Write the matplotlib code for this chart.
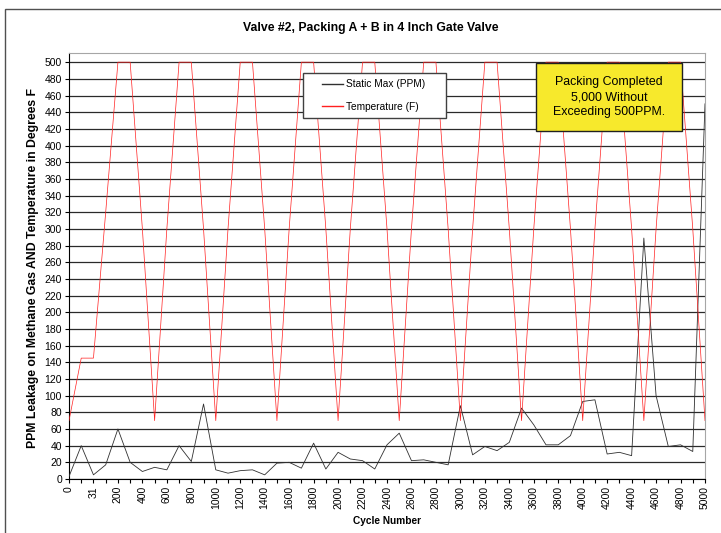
import matplotlib
matplotlib.use("Agg")
import matplotlib.pyplot as plt
from matplotlib.patches import Rectangle

plt.rcParams['font.family'] = ['Liberation Sans', 'DejaVu Sans']

# cycle number categories (Excel category axis, labels on every other one)
cycles = ['0', '10', '31', '100', '200', '300', '400', '500', '600', '700',
          '800', '900', '1000', '1100', '1200', '1300', '1400', '1500', '1600', '1700',
          '1800', '1900', '2000', '2100', '2200', '2300', '2400', '2500', '2600', '2700',
          '2800', '2900', '3000', '3100', '3200', '3300', '3400', '3500', '3600', '3700',
          '3800', '3900', '4000', '4100', '4200', '4300', '4400', '4500', '4600', '4700',
          '4800', '4900', '5000']

static_max = [3, 40, 5, 17, 60, 20, 9, 14, 11, 40,
              21, 90, 11, 7, 10, 11, 5, 19, 20, 13,
              43, 12, 32, 24, 22, 12, 41, 55, 22, 23,
              20, 17, 88, 29, 39, 34, 44, 85, 65, 41,
              41, 52, 93, 95, 30, 32, 28, 289, 100, 39,
              41, 33, 450]

temperature = [70, 145, 145, 320, 500, 500, 300, 70, 300, 500,
               500, 300, 70, 300, 500, 500, 300, 70, 300, 500,
               500, 300, 70, 300, 500, 500, 300, 70, 300, 500,
               500, 300, 70, 300, 500, 500, 300, 70, 300, 500,
               500, 300, 70, 300, 500, 500, 300, 70, 300, 500,
               500, 300, 70]

W, H = 721, 533
fig = plt.figure(figsize=(W / 100, H / 100), dpi=100)

# outer chart border (runs off the right and bottom edge like the original)
fig.patches.append(Rectangle((5 / W, -0.1), 1.2, 1.1 - 9 / H, transform=fig.transFigure,
                             fill=False, edgecolor='#505050', linewidth=1.0))

ax = fig.add_axes([69 / W, 1 - 479 / H, (705 - 69) / W, (479 - 53) / H])

x = list(range(len(cycles)))
ax.plot(x, static_max, color='#303030', linewidth=0.6, label='Static Max (PPM)', zorder=3)
ax.plot(x, temperature, color='#ff2020', linewidth=0.5, label='Temperature (F)', zorder=3)

ax.set_xlim(0, len(cycles) - 1)
ax.set_ylim(0, 511)
ax.set_yticks(range(0, 501, 20))
ax.grid(axis='y', color='#2a2a2a', linewidth=0.9)
ax.set_axisbelow(True)

ax.set_xticks(x)
ax.set_xticklabels([c if i % 2 == 0 else '' for i, c in enumerate(cycles)], rotation=90)
ax.tick_params(axis='both', direction='out', length=3, width=0.8, labelsize=7.5,
               colors='#000000', pad=2)

for side in ['top', 'right']:
    ax.spines[side].set_color('#a6a6a6')
for side in ['left', 'bottom']:
    ax.spines[side].set_color('#000000')

fig.text(371 / W, 1 - 28 / H, 'Valve #2, Packing A + B in 4 Inch Gate Valve',
         ha='center', va='center', fontsize=8.8, fontweight='bold')
fig.text(387 / W, 1 - 521 / H, 'Cycle Number', ha='center', va='center',
         fontsize=7.3, fontweight='bold')
fig.text(33 / W, 1 - 268 / H, 'PPM Leakage on Methane Gas AND Temperature in Degrees F',
         ha='center', va='center', rotation=90, fontsize=8.8, fontweight='bold')

# legend box drawn by hand so it keeps the wide Excel padding
fig.patches.append(Rectangle((303 / W, 1 - 118 / H), (446 - 303) / W, (118 - 73) / H,
                             transform=fig.transFigure, facecolor='white',
                             edgecolor='#404040', linewidth=1.0, zorder=4))
handles, labels = ax.get_legend_handles_labels()
leg = fig.legend(handles, labels, loc='center left', bbox_to_anchor=(322 / W, 1 - 95.5 / H),
                 bbox_transform=fig.transFigure, borderaxespad=0, borderpad=0,
                 fontsize=7.3, frameon=False, handlelength=2.1, handletextpad=0.3,
                 labelspacing=1.2)
leg.set_zorder(6)
for line in leg.get_lines():
    line.set_linewidth(1.0)

# yellow note box
fig.patches.append(Rectangle((536 / W, 1 - 131 / H), (682 - 536) / W, (131 - 63) / H,
                             transform=fig.transFigure, facecolor='#f7e92c',
                             edgecolor='#202020', linewidth=1.0, zorder=5))
fig.text(609 / W, 1 - 97 / H, 'Packing Completed\n5,000 Without\nExceeding 500PPM.',
         ha='center', va='center', fontsize=8.9, linespacing=1.35, zorder=6)

fig.savefig('out.png', dpi=100)
